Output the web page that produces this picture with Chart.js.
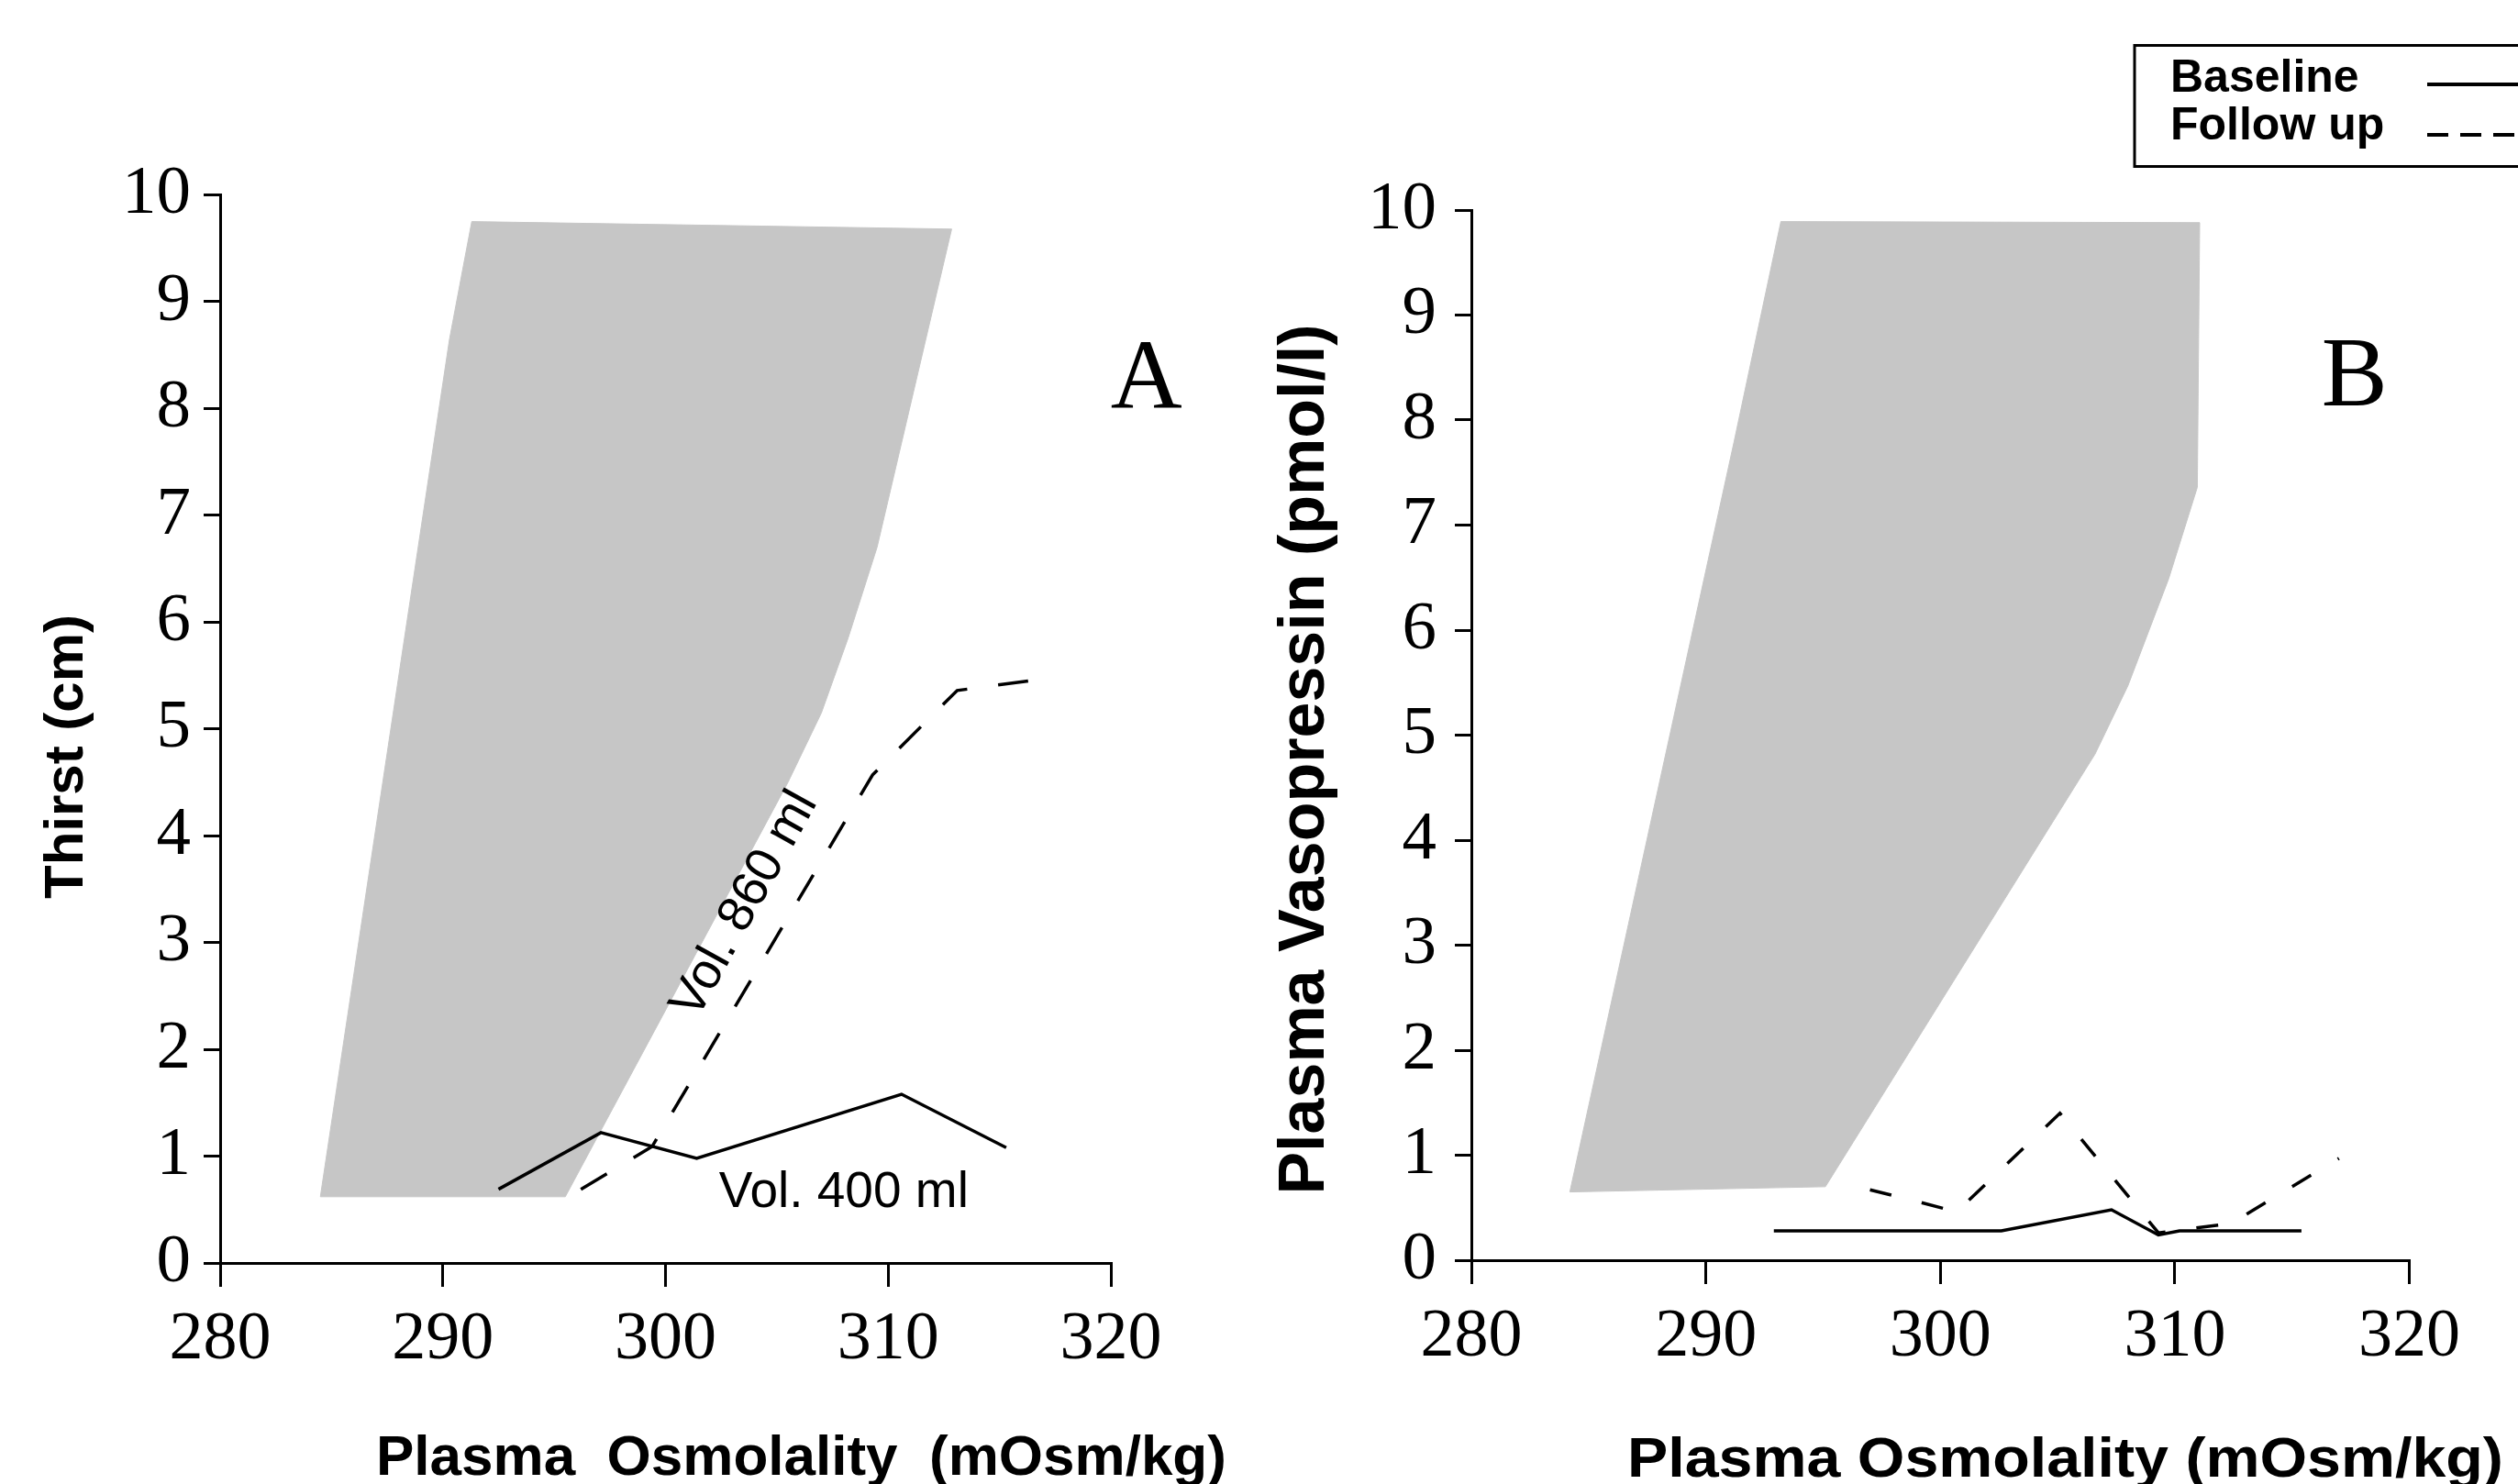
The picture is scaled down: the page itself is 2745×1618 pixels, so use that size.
<!DOCTYPE html>
<html><head><meta charset="utf-8">
<script src="https://cdn.jsdelivr.net/npm/chart.js@4.4.1/dist/chart.umd.min.js"></script>
<style>
html,body{margin:0;padding:0;background:#fff;width:2745px;height:1618px;overflow:hidden;}
canvas{position:absolute;top:0;}
#cA{left:0;} #cB{left:1300px;}
</style></head><body>
<canvas id="cA" width="1450" height="1618"></canvas>
<canvas id="cB" width="1445" height="1618"></canvas>
<script>
// ---------- data ----------
const xMin = 280, xMax = 320, xStep = 10;
const yMin = 0, yMax = 10, yStep = 1;
const seriesLabels = ['Baseline', 'Follow up'];
const normalLabel = 'Normal range';

// Panel A: thirst
const thirstNormalX = [284.5, 290.3, 291.3, 312.85, 309.5, 308.2, 307.0, 305.5, 295.5, 284.5];
const thirstNormalY = [0.62, 8.65, 9.75, 9.68, 6.7, 5.85, 5.15, 4.5, 0.62, 0.62];
const thirstBaselineX = [292.5, 297.1, 301.4, 310.6, 315.3];
const thirstBaselineY = [0.69, 1.22, 0.98, 1.58, 1.08];
const thirstFollowX = [296.2, 299.4, 309.3, 313.1, 317.4];
const thirstFollowY = [0.69, 1.09, 4.57, 5.36, 5.48];

// Panel B: plasma vasopressin
const avpNormalX = [284.2, 291.2, 293.2, 311.06, 310.96, 309.74, 308.0, 306.6, 295.1, 284.2];
const avpNormalY = [0.65, 7.79, 9.89, 9.88, 7.36, 6.49, 5.47, 4.82, 0.70, 0.65];
const avpBaselineX = [292.9, 302.6, 307.3, 309.3, 310.2, 315.4];
const avpBaselineY = [0.28, 0.28, 0.48, 0.24, 0.28, 0.28];
const avpFollowX = [297.0, 299.0, 300.7, 305.1, 309.3, 312.4, 317.0];
const avpFollowY = [0.67, 0.56, 0.46, 1.40, 0.26, 0.35, 0.97];

// texts
const xTitleA = 'Plasma  Osmolality  (mOsm/kg)';
const xTitleB = 'Plasma Osmolality (mOsm/kg)';
const yTitleA = 'Thirst (cm)';
const yTitleB = 'Plasma Vasopressin (pmol/l)';
const panelA = 'A', panelB = 'B';
const volFollow = 'Vol. 860 ml', volBase = 'Vol. 400 ml';

// ---------- helpers ----------
const GREY = '#c6c6c6';
const SANS = '"Liberation Sans", Arial, sans-serif';
const SERIF = '"Liberation Serif", "Times New Roman", serif';
const zip = (xs, ys) => xs.map((x, i) => ({x: x, y: ys[i]}));

function datasets(nx, ny, bx, by, fx, fy, dash) {
  return [
    {label: seriesLabels[0], data: zip(bx, by), borderColor: '#000', borderWidth: 3.5,
     pointRadius: 0, pointHoverRadius: 0, fill: false, tension: 0, order: 0},
    {label: seriesLabels[1], data: zip(fx, fy), borderColor: '#000', borderWidth: 3.5,
     borderDash: dash, pointRadius: 0, pointHoverRadius: 0, fill: false, tension: 0, order: 1},
    {label: normalLabel, data: zip(nx, ny), borderColor: GREY, backgroundColor: GREY,
     borderWidth: 1, pointRadius: 0, pointHoverRadius: 0, fill: 'shape', tension: 0, order: 5}
  ];
}

function options(p) {
  return {
    responsive: false, animation: false, devicePixelRatio: 1, events: [],
    layout: {padding: {left: 0, top: p.top, right: p.right, bottom: 0}},
    plugins: {legend: {display: false}, tooltip: {enabled: false}, title: {display: false}},
    scales: {
      x: {type: 'linear', min: xMin, max: xMax,
          ticks: {stepSize: xStep, color: '#000', autoSkip: false, maxRotation: 0,
                  font: {family: SERIF, size: 74}, padding: p.xPad},
          grid: {drawOnChartArea: false, drawTicks: true, tickLength: 26, color: '#000', lineWidth: 3},
          border: {display: true, color: '#000', width: 3},
          afterFit: s => { s.height = p.xH; }},
      y: {type: 'linear', min: yMin, max: yMax,
          ticks: {stepSize: yStep, color: '#000', font: {family: SERIF, size: 75}, padding: p.yPad},
          grid: {drawOnChartArea: false, drawTicks: true, tickLength: 18, color: '#000', lineWidth: 3},
          border: {display: true, color: '#000', width: 3},
          afterFit: s => { s.width = p.yW; }}
    }
  };
}

function txt(ctx, t, x, y, font, align, angle, sx) {
  ctx.save();
  ctx.translate(x, y);
  if (angle) ctx.rotate(angle * Math.PI / 180);
  if (sx) ctx.scale(sx, 1);
  ctx.font = font;
  ctx.fillStyle = '#000';
  ctx.textAlign = align;
  ctx.textBaseline = 'alphabetic';
  ctx.fillText(t, 0, 0);
  ctx.restore();
}

const textA = {
  id: 'textA',
  afterDraw(chart) {
    const c = chart.ctx, X = chart.scales.x, Y = chart.scales.y;
    txt(c, yTitleA, 90, 825, 'bold 60px ' + SANS, 'center', -90);
    txt(c, xTitleA, 410, 1608, 'bold 62px ' + SANS, 'left');
    txt(c, panelA, X.getPixelForValue(321.6), Y.getPixelForValue(8.0), '108px ' + SERIF, 'center');
    txt(c, volFollow, X.getPixelForValue(301.4), Y.getPixelForValue(2.27), '55px ' + SANS, 'left', -61);
    txt(c, volBase, X.getPixelForValue(302.4), Y.getPixelForValue(0.52), '55px ' + SANS, 'left');
  }
};

const textB = {
  id: 'textB',
  afterDraw(chart) {
    const c = chart.ctx, X = chart.scales.x, Y = chart.scales.y;
    txt(c, yTitleB, 143, 828, 'bold 70px ' + SANS, 'center', -90);
    txt(c, xTitleB, 474, 1610, 'bold 62px ' + SANS, 'left', 0, 1.07);
    txt(c, panelB, X.getPixelForValue(317.66), Y.getPixelForValue(8.14), '108px ' + SERIF, 'center');
    // legend box (right side runs off the page, as in the figure)
    c.save();
    c.strokeStyle = '#000'; c.lineWidth = 3;
    c.strokeRect(1027, 49.5, 500, 132);
    const ds = chart.data.datasets;
    const rows = [{d: ds[0], y: 100, ly: 92, dash: []}, {d: ds[1], y: 152, ly: 147, dash: [23, 13]}];
    rows.forEach(r => {
      txt(c, r.d.label, 1066, r.y, 'bold 50px ' + SANS, 'left');
      c.beginPath();
      c.setLineDash(r.dash);
      c.lineWidth = 4;
      c.strokeStyle = r.d.borderColor;
      c.moveTo(1346, r.ly); c.lineTo(1460, r.ly);
      c.stroke();
    });
    c.restore();
  }
};

new Chart(document.getElementById('cA'), {
  type: 'line',
  data: {datasets: datasets(thirstNormalX, thirstNormalY, thirstBaselineX, thirstBaselineY,
                           thirstFollowX, thirstFollowY, [33, 34])},
  options: options({top: 212.5, right: 239, xH: 241, yW: 240, xPad: 14, yPad: 14}),
  plugins: [textA]
});

new Chart(document.getElementById('cB'), {
  type: 'line',
  data: {datasets: datasets(avpNormalX, avpNormalY, avpBaselineX, avpBaselineY,
                           avpFollowX, avpFollowY, [24, 34])},
  options: options({top: 229, right: 118.5, xH: 244, yW: 304, xPad: 14, yPad: 20}),
  plugins: [textB]
});
</script>
</body></html>
